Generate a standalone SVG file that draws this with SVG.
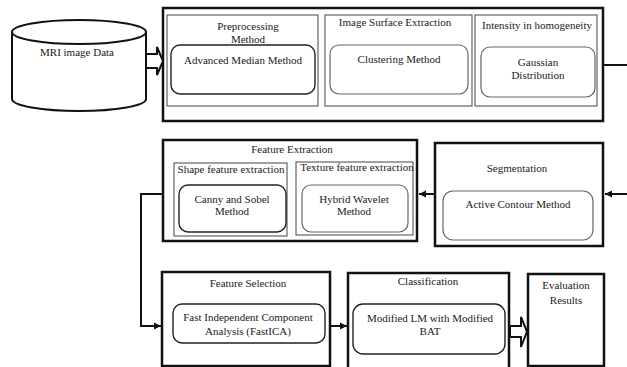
<svg xmlns="http://www.w3.org/2000/svg" width="627" height="367" viewBox="0 0 627 367">
<defs>
<marker id="ah" markerWidth="8" markerHeight="8" refX="7" refY="4" orient="auto" markerUnits="userSpaceOnUse">
<path d="M0,0.5 L7,4 L0,7.5 Z" fill="#111"/>
</marker>
<style>
text{font-family:"Liberation Serif","Times New Roman",serif;font-size:11px;fill:#1a1a1a;text-anchor:middle}
.outer{fill:#fff;stroke:#111;stroke-width:2.5}
.panel{fill:none;stroke:#444;stroke-width:1}
.rd{fill:none;stroke:#222;stroke-width:1.4}
.rg{fill:none;stroke:#666;stroke-width:1.2}
.conn{fill:none;stroke:#111;stroke-width:2}
.hollow{fill:#fff;stroke:#111;stroke-width:2;stroke-linejoin:miter}
</style>
</defs>

<g id="mri-data">
<path d="M12,32 V99 A67,12 0 0 0 146,99 V32" fill="#fff" stroke="#111" stroke-width="2"/>
<ellipse cx="79" cy="32" rx="67" ry="12" fill="#fff" stroke="#111" stroke-width="2"/>
<text x="77" y="56">MRI image Data</text>
</g>

<g id="preprocessing-stage">
<rect class="outer" x="163" y="8" width="440" height="113"/>
<g id="preprocessing">
<rect class="panel" x="167" y="15" width="151" height="91"/>
<text x="248" y="30">Preprocessing</text>
<text x="248" y="43">Method</text>
<rect class="rd" x="171" y="45" width="144" height="49" rx="9"/>
<text x="243" y="64">Advanced Median Method</text>
</g>
<g id="surface-extraction">
<rect class="panel" x="325" y="15" width="147" height="91"/>
<text x="395" y="26">Image Surface Extraction</text>
<rect class="rg" x="330" y="45" width="138" height="49" rx="9"/>
<text x="399" y="63">Clustering Method</text>
</g>
<g id="intensity">
<rect class="panel" x="475" y="15" width="122" height="91"/>
<text x="537" y="29">Intensity in homogeneity</text>
<rect class="rg" x="481" y="47" width="114" height="50" rx="9"/>
<text x="538" y="66">Gaussian</text>
<text x="538" y="79">Distribution</text>
</g>
</g>

<g id="feature-extraction">
<rect class="outer" x="163" y="140" width="254" height="101"/>
<text x="292" y="153">Feature Extraction</text>
<g id="shape-feature">
<rect class="panel" x="174" y="163" width="113" height="73"/>
<text x="231" y="173">Shape feature extraction</text>
<rect class="rd" x="179" y="185" width="107" height="47" rx="9"/>
<text x="232" y="203">Canny and Sobel</text>
<text x="232" y="215">Method</text>
</g>
<g id="texture-feature">
<rect class="panel" x="296" y="162" width="117" height="73"/>
<text x="357" y="171">Texture feature extraction</text>
<rect class="rg" x="302" y="185" width="106" height="47" rx="9"/>
<text x="354" y="203">Hybrid Wavelet</text>
<text x="354" y="215">Method</text>
</g>
</g>

<g id="segmentation">
<rect class="outer" x="435" y="143" width="168" height="103"/>
<text x="517" y="172">Segmentation</text>
<rect class="rg" x="443" y="191" width="150" height="49" rx="10"/>
<text x="518" y="208">Active Contour Method</text>
</g>

<g id="feature-selection">
<rect class="outer" x="162" y="272" width="168" height="94"/>
<text x="248" y="287">Feature Selection</text>
<rect class="rd" x="173" y="304" width="152" height="39" rx="9"/>
<text x="248" y="321">Fast Independent Component</text>
<text x="248" y="335">Analysis (FastICA)</text>
</g>

<g id="classification">
<rect class="outer" x="348" y="273" width="161" height="100"/>
<text x="428" y="285">Classification</text>
<rect class="rd" x="353" y="304" width="152" height="50" rx="10"/>
<text x="430" y="322">Modified LM with Modified</text>
<text x="430" y="335">BAT</text>
</g>

<g id="evaluation">
<rect class="outer" x="528" y="274" width="76" height="92"/>
<text x="566" y="289">Evaluation</text>
<text x="566" y="304">Results</text>
</g>

<g id="connectors">
<polygon class="hollow" points="146,54 157,54 157,47 163,61 157,75 157,68 146,68"/>
<polygon class="hollow" points="510,326 521,326 521,317 527,331.5 521,347 521,337 510,337"/>
<path class="conn" d="M604,65 H640 V194 H605" marker-end="url(#ah)"/>
<path class="conn" d="M434,194 H419" marker-end="url(#ah)"/>
<path class="conn" d="M162,194 H141 V326 H161" marker-end="url(#ah)"/>
<path class="conn" d="M331,326 H347" marker-end="url(#ah)"/>
</g>
</svg>
